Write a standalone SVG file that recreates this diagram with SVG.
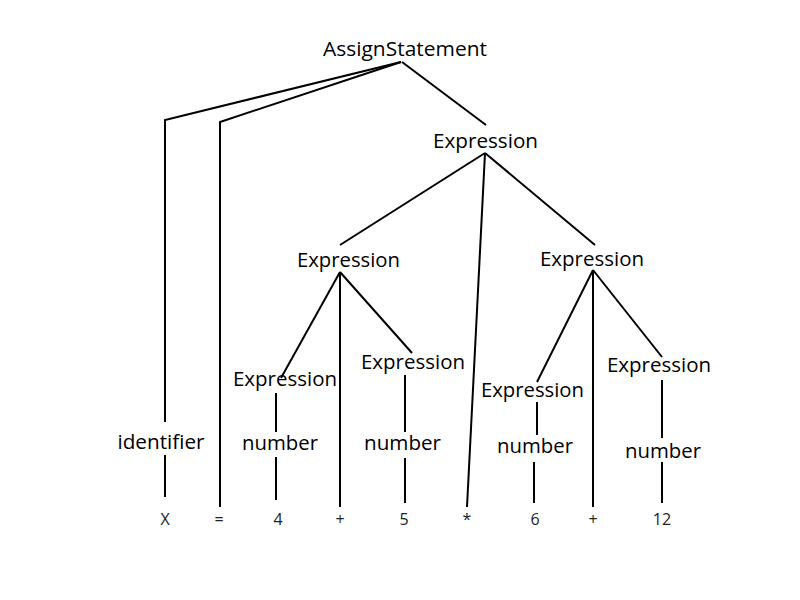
<svg xmlns="http://www.w3.org/2000/svg" width="800" height="600" viewBox="0 0 800 600">
<style>
.n{font-family:"Open Sans","Liberation Sans",sans-serif;font-size:20px;fill:#000;text-anchor:middle}
.l{font-family:"Open Sans","Liberation Sans",sans-serif;font-size:16px;fill:#222;text-anchor:middle}
.e{fill:none;stroke:#000;stroke-width:2}
</style>
<rect width="800" height="600" fill="#fff"/>
<g id="edges">
<polyline class="e" points="401,62 165,120 165,422"/>
<line class="e" x1="165" y1="455" x2="165" y2="497"/>
<polyline class="e" points="401,62 220,122 220,507"/>
<line class="e" x1="402" y1="62" x2="486" y2="125"/>
<line class="e" x1="485" y1="153" x2="340" y2="245"/>
<line class="e" x1="485" y1="153" x2="467" y2="507"/>
<line class="e" x1="485" y1="153" x2="595" y2="245"/>
<line class="e" x1="340" y1="272" x2="281" y2="378"/>
<line class="e" x1="340" y1="272" x2="340" y2="507"/>
<line class="e" x1="340" y1="272" x2="412" y2="353"/>
<line class="e" x1="276" y1="393" x2="276" y2="432"/>
<line class="e" x1="276" y1="457" x2="276" y2="500"/>
<line class="e" x1="405" y1="375" x2="405" y2="432"/>
<line class="e" x1="405" y1="458" x2="405" y2="503"/>
<line class="e" x1="593" y1="270" x2="537" y2="382"/>
<line class="e" x1="593" y1="270" x2="593" y2="507"/>
<line class="e" x1="593" y1="270" x2="662" y2="357"/>
<line class="e" x1="537" y1="402" x2="537" y2="435"/>
<line class="e" x1="534" y1="462" x2="534" y2="503"/>
<line class="e" x1="662" y1="380" x2="662" y2="438"/>
<line class="e" x1="662" y1="462" x2="662" y2="503"/>
</g>
<g id="assign"><text class="n" x="405" y="56" textLength="164" lengthAdjust="spacingAndGlyphs">AssignStatement</text></g>
<g id="expr-root"><text class="n" x="485.5" y="148" textLength="105" lengthAdjust="spacingAndGlyphs">Expression</text></g>
<g id="expr-left"><text class="n" x="348.5" y="267" textLength="103" lengthAdjust="spacingAndGlyphs">Expression</text></g>
<g id="expr-right"><text class="n" x="592" y="266" textLength="104" lengthAdjust="spacingAndGlyphs">Expression</text></g>
<g id="expr-ll"><text class="n" x="285" y="386" textLength="104" lengthAdjust="spacingAndGlyphs">Expression</text></g>
<g id="expr-lr"><text class="n" x="413" y="369" textLength="104" lengthAdjust="spacingAndGlyphs">Expression</text></g>
<g id="expr-rl"><text class="n" x="532.5" y="397" textLength="103" lengthAdjust="spacingAndGlyphs">Expression</text></g>
<g id="expr-rr"><text class="n" x="659" y="372" textLength="104" lengthAdjust="spacingAndGlyphs">Expression</text></g>
<g id="identifier"><text class="n" x="161" y="449" textLength="87" lengthAdjust="spacingAndGlyphs">identifier</text></g>
<g id="number-4"><text class="n" x="280" y="450" textLength="76" lengthAdjust="spacingAndGlyphs">number</text></g>
<g id="number-5"><text class="n" x="402.5" y="450" textLength="77" lengthAdjust="spacingAndGlyphs">number</text></g>
<g id="number-6"><text class="n" x="535" y="453" textLength="76" lengthAdjust="spacingAndGlyphs">number</text></g>
<g id="number-12"><text class="n" x="663" y="458" textLength="76" lengthAdjust="spacingAndGlyphs">number</text></g>
<g id="leaf-x"><text class="l" x="165" y="525">X</text></g>
<g id="leaf-eq"><text class="l" x="219" y="525">=</text></g>
<g id="leaf-4"><text class="l" x="278" y="525">4</text></g>
<g id="leaf-plus1"><text class="l" x="340" y="525">+</text></g>
<g id="leaf-5"><text class="l" x="404" y="525">5</text></g>
<g id="leaf-star"><text class="l" x="467" y="525">*</text></g>
<g id="leaf-6"><text class="l" x="535" y="525">6</text></g>
<g id="leaf-plus2"><text class="l" x="593" y="525">+</text></g>
<g id="leaf-12"><text class="l" x="662" y="525">12</text></g>
</svg>
